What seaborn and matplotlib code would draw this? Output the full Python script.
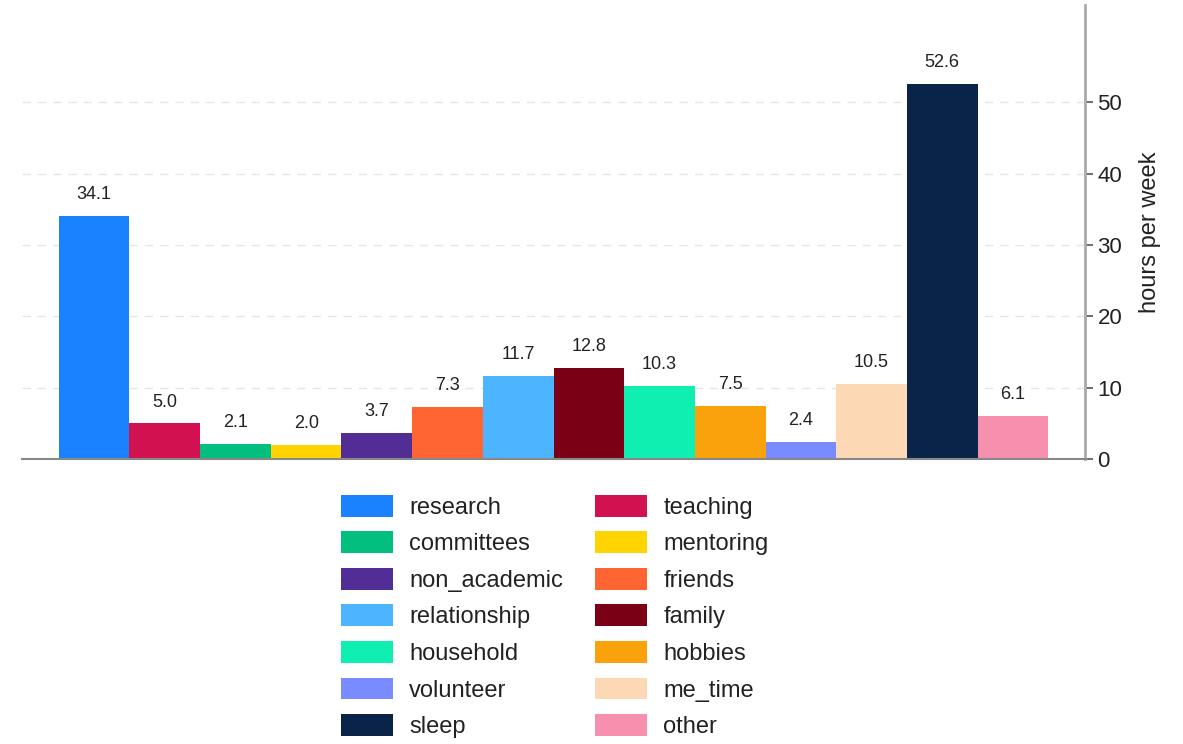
import matplotlib
matplotlib.use("Agg")
import matplotlib.pyplot as plt
import seaborn as sns
import pandas as pd
from matplotlib.patches import Patch

activities = ["research", "teaching", "committees", "mentoring", "non_academic",
              "friends", "relationship", "family", "household", "hobbies",
              "volunteer", "me_time", "sleep", "other"]
hours = [34.1, 5.0, 2.1, 2.0, 3.7, 7.3, 11.7, 12.8, 10.3, 7.5, 2.4, 10.5, 52.6, 6.1]
colors = ["#1a82ff", "#d11150", "#02be7f", "#ffd400", "#532d96", "#ff6433",
          "#4db5ff", "#7a0015", "#10efb2", "#f9a20b", "#7a8aff", "#fdd8b5",
          "#0a2348", "#f78fae"]

df = pd.DataFrame({"activity": activities, "hours": hours})

sns.set_style("white")
plt.rcParams["font.family"] = ["Liberation Sans", "DejaVu Sans"]

fig = plt.figure(figsize=(11.83, 7.44), dpi=100)
ax = fig.add_axes([0.0186, 0.383, 0.8986, 0.610])

sns.barplot(data=df, x="activity", y="hours", hue="activity",
            palette=dict(zip(activities, colors)), width=1.0,
            saturation=1, legend=False, ax=ax, order=activities,
            linewidth=0)

for p, v in zip(ax.patches, hours):
    ax.text(p.get_x() + p.get_width() / 2, v + 1.8, f"{v:.1f}",
            ha="center", va="bottom", fontsize=13, color="#222222")

ax.set_xlim(-1.02, 14.02)
ax.set_ylim(0, 63.6)
ax.set_yticks([0, 10, 20, 30, 40, 50])
ax.yaxis.tick_right()
ax.yaxis.set_label_position("right")
ax.set_ylabel("hours per week", fontsize=17, color="#222222", labelpad=12)
ax.set_xlabel("")
ax.set_xticks([])
ax.tick_params(axis="y", direction="out", length=6, width=1.2, color="#555555",
               labelsize=16, labelcolor="#222222", right=True, pad=3)
for s in ["left", "top"]:
    ax.spines[s].set_visible(False)
ax.spines["right"].set_color("#aaaaaa")
ax.spines["right"].set_linewidth(2)
ax.spines["bottom"].set_color("#888888")
ax.spines["bottom"].set_linewidth(1.5)
ax.yaxis.grid(True, linestyle=(0, (6, 5)), color="#e6e6e6", linewidth=1)
ax.set_axisbelow(True)

handles = [Patch(facecolor=c, edgecolor="none") for c in colors]
order = list(range(0, 14, 2)) + list(range(1, 14, 2))
leg = fig.legend([handles[i] for i in order], [activities[i] for i in order],
                 ncol=2, loc="upper center", bbox_to_anchor=(0.469, 0.357),
                 frameon=False, fontsize=17, handlelength=2.2, handleheight=1.05,
                 columnspacing=1.36, labelspacing=0.53, handletextpad=0.68,
                 borderpad=0.2)
for t in leg.get_texts():
    t.set_color("#222222")

fig.savefig("out.png", dpi=100)
